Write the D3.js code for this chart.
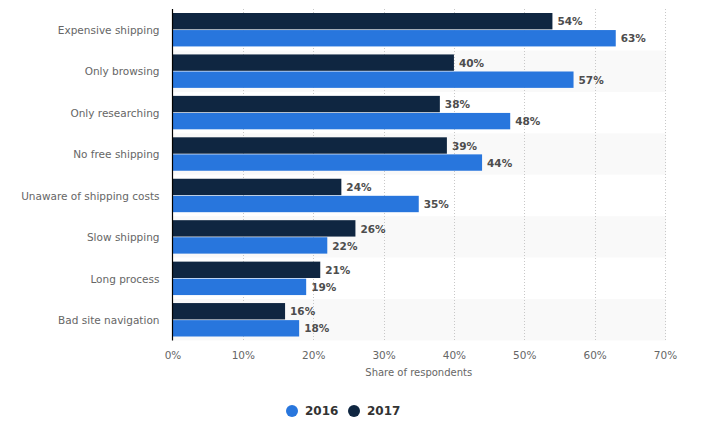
<!DOCTYPE html>
<html><head><meta charset="utf-8">
<script src="https://cdn.jsdelivr.net/npm/d3@7"></script>
<style>body{margin:0;background:#fff;} text{font-family:"DejaVu Sans",sans-serif;}</style>
</head><body><svg id="c" width="711" height="430"></svg>
<script>
const categories = ["Expensive shipping","Only browsing","Only researching","No free shipping","Unaware of shipping costs","Slow shipping","Long process","Bad site navigation"];
const values2017 = [54,40,38,39,24,26,21,16];
const values2016 = [63,57,48,44,35,22,19,18];
const ticks = [0,10,20,30,40,50,60,70];
const seriesNames = ["2016","2017"];
const colors = {"2016":"#2876dd","2017":"#0f2641"};

const svg = d3.select("#c");
const x = d3.scaleLinear().domain([0,70]).range([172.5,665]);
const y = d3.scaleBand().domain(categories).range([9,340.5]).paddingInner(0).paddingOuter(0);
const sub = d3.scaleBand().domain(["2017","2016"]).range([4, y.bandwidth()-4]).paddingInner(0.04);

// stripes
svg.append("g").selectAll("rect").data(categories).join("rect")
  .attr("x",172.5).attr("width",665-172.5+1)
  .attr("y",d=>y(d)).attr("height",y.bandwidth())
  .attr("fill",(d,i)=>i%2? "#f9f9f9":"#fff");

// grid
svg.append("g").selectAll("line").data(ticks.slice(1)).join("line")
  .attr("x1",d=>Math.round(x(d))+0.5).attr("x2",d=>Math.round(x(d))+0.5)
  .attr("y1",9).attr("y2",340.5)
  .attr("stroke","#c8c8c8").attr("stroke-dasharray","1,2");

const rows = categories.map((c,i)=>({c, "2017":values2017[i], "2016":values2016[i]}));
const g = svg.append("g");
["2017","2016"].forEach(s=>{
  g.selectAll("rect.b"+s).data(rows).join("rect").attr("class","b"+s)
    .attr("x",x(0)).attr("y",d=>y(d.c)+sub(s)).attr("height",sub.bandwidth())
    .attr("width",d=>x(d[s])-x(0)).attr("fill",colors[s]);
  g.selectAll("text.l"+s).data(rows).join("text").attr("class","l"+s)
    .attr("x",d=>x(d[s])+5).attr("y",d=>y(d.c)+sub(s)+sub.bandwidth()/2+0.5)
    .attr("dy","0.35em").attr("font-size","10.5px").attr("font-weight","bold")
    .attr("fill","#4d4d4d").text(d=>d[s]+"%");
});

// y axis labels
const ya = svg.append("g").attr("transform","translate(172.5,0)")
  .call(d3.axisLeft(y).tickSize(0).tickPadding(13));
ya.select(".domain").remove();
ya.selectAll("text").attr("font-size","10.5px").attr("fill","#666").attr("dy","0.4em").style("font-family","'DejaVu Sans',sans-serif");
svg.append("line").attr("x1",172.5).attr("x2",172.5).attr("y1",9).attr("y2",340.5).attr("stroke","#000").attr("stroke-width",1.2);

// x axis
const xa = svg.append("g").attr("transform","translate(0,340.5)")
  .call(d3.axisBottom(x).tickValues(ticks).tickFormat(d=>d+"%").tickSize(0).tickPadding(10));
xa.select(".domain").remove();
xa.selectAll("text").attr("font-size","10.5px").attr("fill","#666").attr("dy","0.8em").style("font-family","'DejaVu Sans',sans-serif");

svg.append("text").attr("x",x(35)).attr("y",376).attr("text-anchor","middle")
  .attr("font-size","10px").attr("fill","#666").text("Share of respondents");

// legend
const leg = svg.append("g");
const legX = [292,354];
seriesNames.forEach((s,i)=>{
  leg.append("circle").attr("cx",legX[i]).attr("cy",411).attr("r",6).attr("fill",colors[s]);
  leg.append("text").attr("x",legX[i]+13).attr("y",411).attr("dy","0.35em")
    .attr("font-size","12px").attr("font-weight","bold").attr("fill","#333").text(s);
});
</script></body></html>
